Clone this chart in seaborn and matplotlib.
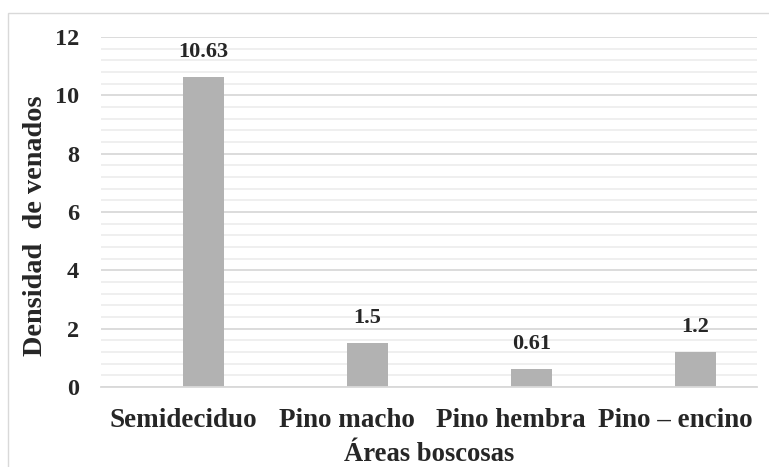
import matplotlib
matplotlib.use("Agg")
import matplotlib.pyplot as plt
from matplotlib.patches import Rectangle
from matplotlib.ticker import MultipleLocator
import seaborn as sns
import pandas as pd

# Data
areas = ['Semideciduo', 'Pino macho', 'Pino hembra', 'Pino – encino']
densidad = [10.63, 1.5, 0.61, 1.2]
etiquetas = ['10.63', '1.5', '0.61', '1.2']

sns.set_style('white')
plt.rcParams['font.family'] = ['Liberation Serif', 'DejaVu Serif']
plt.rcParams['font.weight'] = 'bold'

# empty first series so the bars sit right of the category centre (as in the original)
df = pd.DataFrame({
    'area': areas + areas,
    'valor': [0.0] * len(areas) + densidad,
    'serie': ['vacía'] * len(areas) + ['densidad'] * len(areas),
})

fig = plt.figure(figsize=(7.69, 4.67), dpi=100)
ax = fig.add_axes([101 / 769, 1 - 387 / 467, 656 / 769, 350 / 467])

sns.barplot(data=df, x='area', y='valor', hue='serie', hue_order=['vacía', 'densidad'],
            order=areas, palette={'vacía': '#b2b2b2', 'densidad': '#b2b2b2'},
            width=0.5, ax=ax, legend=False, errorbar=None, saturation=1,
            linewidth=0)

ax.set_ylim(0, 12)
ax.yaxis.set_major_locator(MultipleLocator(2))
ax.yaxis.set_minor_locator(MultipleLocator(0.4))
ax.grid(which='major', axis='y', color='#d9d9d9', linewidth=1.3)
ax.grid(which='minor', axis='y', color='#eeeeee', linewidth=1.3)
ax.set_axisbelow(True)
ax.tick_params(axis='y', which='both', length=0, labelsize=17.5, pad=16)
ax.tick_params(axis='x', which='both', length=0, labelsize=19.5, pad=15)
for lbl in ax.get_xticklabels() + ax.get_yticklabels():
    lbl.set_fontweight('bold')

for s in ['left', 'right', 'top']:
    ax.spines[s].set_visible(False)
ax.spines['bottom'].set_color('#d9d9d9')
ax.spines['bottom'].set_linewidth(1.3)

# value labels above the bars
cont = ax.containers[1]
ax.bar_label(cont, labels=etiquetas, padding=11, fontsize=16, fontweight='bold')

ax.set_xlabel('Áreas boscosas', fontsize=19.2, fontweight='bold')
ax.xaxis.set_label_coords(0.5, -0.158)
ax.set_ylabel('Densidad  de venados', fontsize=20.3, fontweight='bold')
ax.yaxis.label.set_va('center')
ax.yaxis.set_label_coords(-0.1, 0.46)

# chart area border (only the top and left edges fall inside the image)
fig.patches.append(Rectangle((8 / 769, -0.05), 1.0, 1 - 13 / 467 + 0.05,
                             transform=fig.transFigure, fill=False,
                             edgecolor='#d9d9d9', linewidth=1))

fig.savefig('out.png', dpi=100)
